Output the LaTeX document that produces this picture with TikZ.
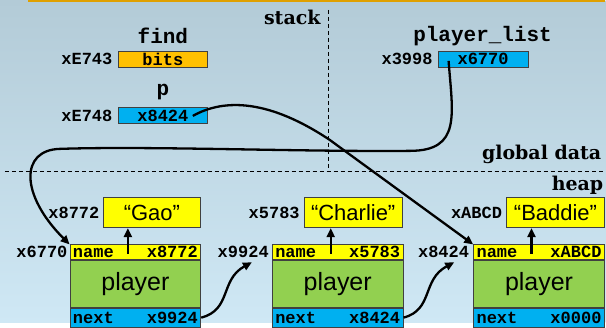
\documentclass[tikz,border=0pt]{standalone}
\usepackage{fontspec}
\setmonofont{Liberation Mono}
\newfontfamily\sansfnt{Liberation Sans}
\newfontfamily\regionfnt{DejaVu Serif}
\usetikzlibrary{positioning,arrows.meta}
\definecolor{bgtop}{HTML}{B3CBD7}
\definecolor{bgbot}{HTML}{CFE8F5}
\definecolor{barorange}{HTML}{E0A000}
\definecolor{bitsorange}{HTML}{FFC000}
\definecolor{ptrblue}{HTML}{00B0F0}
\definecolor{strnyellow}{HTML}{FFFF00}
\definecolor{playergreen}{HTML}{92D050}
\definecolor{boxline}{HTML}{404040}
\begin{document}
\begin{tikzpicture}[x=1pt, y=-1pt, inner sep=0pt]
\tikzstyle{addr}=[font=\ttfamily\bfseries\fontsize{17}{17}\selectfont]
\tikzstyle{varname}=[font=\ttfamily\bfseries\fontsize{21}{21}\selectfont]
\tikzstyle{region}=[font=\regionfnt\bfseries\fontsize{19}{19}\selectfont, anchor=east]
\tikzstyle{membox}=[addr, draw=boxline, line width=0.7pt, minimum width=90pt, minimum height=16pt]
\tikzstyle{rowbox}=[addr, draw=boxline, line width=0.7pt, text width=125pt, inner xsep=3pt, minimum height=15pt, align=left]
\tikzstyle{bodybox}=[draw=boxline, line width=0.7pt, fill=playergreen, minimum width=131pt, minimum height=47pt, font=\sansfnt\fontsize{25}{25}\selectfont]
\tikzstyle{strnbox}=[draw=boxline, line width=0.7pt, fill=strnyellow, minimum width=98pt, minimum height=30pt, font=\sansfnt\fontsize{22}{22}\selectfont]
\tikzstyle{ptr}=[line width=2.3pt, -{Triangle[length=9pt,width=8pt]}]
% background
\fill[top color=bgtop, bottom color=bgbot] (0,0) rectangle (606,323);
\fill[barorange] (28,0) rectangle (606,1.8);
\draw[dashed, line width=1.1pt, dash pattern=on 4pt off 3pt] (329,10) -- (329,172);
\draw[dashed, line width=1.1pt, dash pattern=on 4pt off 3pt] (5,172) -- (606,172);
\node[region] (stack) at (321,17) {stack};
\node[region] (global) at (602,155) {global data};
\node[region] (heap) at (604,185) {heap};
% stack and globals
\node[varname] (find) at (163,36) {find};
\node[membox, fill=bitsorange] (bits) at (163,59) {bits};
\node[addr, left=5pt of bits] (bitsaddr) {xE743};
\node[varname] (p) at (163,92) {p};
\node[membox, fill=ptrblue] (pbox) at (163,115.5) {x8424};
\node[addr, left=5pt of pbox] (paddr) {xE748};
\node[varname] (plist) at (483,36) {player\_list};
\node[membox, fill=ptrblue] (plbox) at (483.5,59) {x6770};
\node[addr, left=5pt of plbox] (pladdr) {x3998};
% heap
\node[rowbox, fill=strnyellow] (name1) at (135.5,252.5) {name\hfill x8772};
\node[bodybox, below=0pt of name1] (body1) {player};
\node[rowbox, fill=ptrblue, below=0pt of body1, minimum height=19pt] (next1) {next\hfill x9924};
\node[strnbox] (gao) at (152,213) {“Gao”};
\node[addr, left=3pt of gao] (gaoaddr) {x8772};
\node[addr, left=2pt of name1] (addrA) {x6770};
\node[rowbox, fill=strnyellow] (name2) at (338,252.5) {name\hfill x5783};
\node[bodybox, below=0pt of name2] (body2) {player};
\node[rowbox, fill=ptrblue, below=0pt of body2, minimum height=19pt] (next2) {next\hfill x8424};
\node[strnbox] (charlie) at (353.5,213) {“Charlie”};
\node[addr, left=4pt of charlie] (charlieaddr) {x5783};
\node[addr, left=3pt of name2] (addrB) {x9924};
\node[rowbox, fill=strnyellow] (name3) at (539.5,252.5) {name\hfill xABCD};
\node[bodybox, below=0pt of name3] (body3) {player};
\node[rowbox, fill=ptrblue, below=0pt of body3, minimum height=19pt] (next3) {next\hfill x0000};
\node[strnbox] (baddie) at (556,213) {“Baddie”};
\node[addr, left=4pt of baddie] (baddieaddr) {xABCD};
\node[addr, left=4pt of name3] (addrC) {x8424};
% pointers
\coordinate (nm1) at (128,254);
\coordinate (nm2) at (331,254);
\coordinate (nm3) at (532,254);
\draw[ptr] (nm1) -- (nm1 |- gao.south);
\draw[ptr] (nm2) -- (nm2 |- charlie.south);
\draw[ptr] (nm3) -- (nm3 |- baddie.south);
\coordinate (plstart) at (449,61);
\coordinate (pstart) at (193,116);
\draw[ptr] (plstart) .. controls (453,115) and (462,151) .. (410,151)
  .. controls (300,152) and (150,146) .. (60,149)
  .. controls (20,150) and (20,195) .. (name1.north west);
\draw[ptr] (pstart) .. controls (225,98) and (270,100) .. (330,140) -- (name3.north west);
\draw[ptr] (next1.east) .. controls (232,310) and (220,280) .. ([xshift=-17pt,yshift=-4pt]addrB.south east);
\draw[ptr] (next2.east) .. controls (434,310) and (422,280) .. ([xshift=-15pt,yshift=-4pt]addrC.south east);
\end{tikzpicture}
\end{document}
